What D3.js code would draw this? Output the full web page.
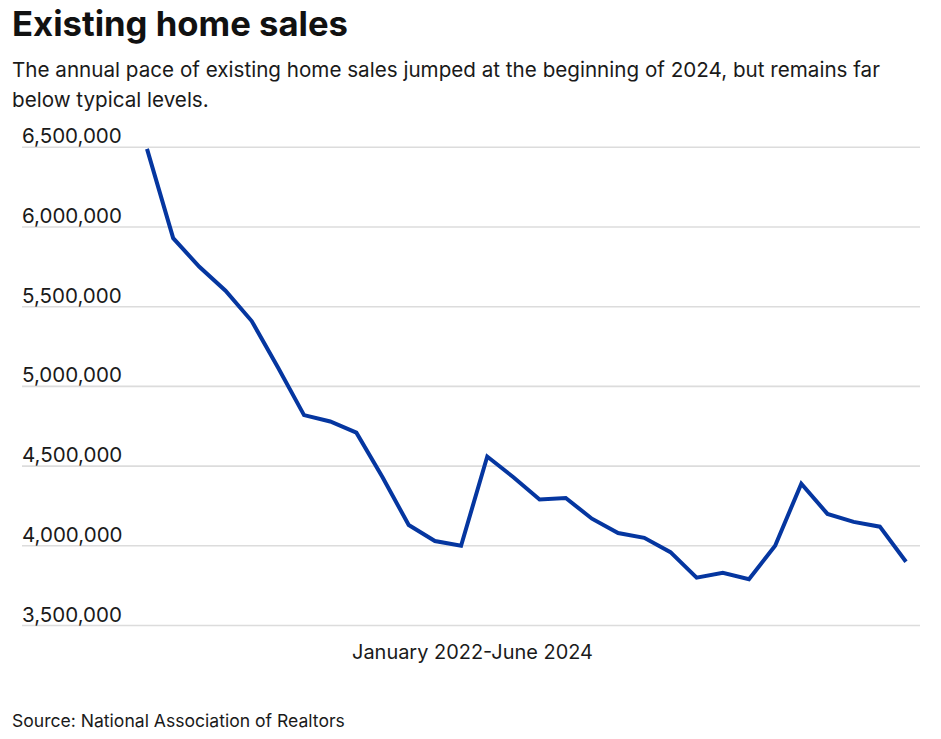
<!DOCTYPE html>
<html>
<head>
<meta charset="utf-8">
<script src="https://cdn.jsdelivr.net/npm/d3@7"></script>
<style>
  html, body { margin: 0; padding: 0; background: #fff; }
  svg { display: block; }
  text { font-family: Inter, "Noto Sans", sans-serif; fill: #1a1a1a; }
</style>
</head>
<body>
<svg id="chart" width="941" height="739"></svg>
<script>
const months = [
  "Jan 2022","Feb 2022","Mar 2022","Apr 2022","May 2022","Jun 2022",
  "Jul 2022","Aug 2022","Sep 2022","Oct 2022","Nov 2022","Dec 2022",
  "Jan 2023","Feb 2023","Mar 2023","Apr 2023","May 2023","Jun 2023",
  "Jul 2023","Aug 2023","Sep 2023","Oct 2023","Nov 2023","Dec 2023",
  "Jan 2024","Feb 2024","Mar 2024","Apr 2024","May 2024","Jun 2024"
];
const sales = [
  6490000, 5930000, 5750000, 5600000, 5410000, 5120000,
  4820000, 4780000, 4710000, 4430000, 4130000, 4030000,
  4000000, 4560000, 4430000, 4290000, 4300000, 4170000,
  4080000, 4050000, 3960000, 3800000, 3830000, 3790000,
  4000000, 4390000, 4200000, 4150000, 4120000, 3900000
];
const yTicks = [3500000, 4000000, 4500000, 5000000, 5500000, 6000000, 6500000];
const titleText = "Existing home sales";
const subtitleLines = [
  "The annual pace of existing home sales jumped at the beginning of 2024, but remains far",
  "below typical levels."
];
const xAxisLabel = "January 2022-June 2024";
const sourceText = "Source: National Association of Realtors";

const svg = d3.select("#chart");

// scale a text's font-size so its width matches a target width
function fitWidth(sel, target) {
  const node = sel.node();
  const fs = parseFloat(sel.style("font-size"));
  const w = node.getComputedTextLength();
  if (w > 0) sel.style("font-size", (fs * target / w).toFixed(2) + "px");
  return fs * target / w;
}

const x = d3.scalePoint().domain(months).range([147, 906]);
const y = d3.scaleLinear().domain([3500000, 6500000]).range([625.5, 147.3]);

// Title & subtitle
const title = svg.append("text").attr("x", 12).attr("y", 36)
  .style("font-size", "32px").style("font-weight", 700).style("fill", "#111")
  .text(titleText);
fitWidth(title, 336);

const subs = svg.selectAll(".sub").data(subtitleLines).enter().append("text")
  .attr("class", "sub")
  .attr("x", 12).attr("y", (d, i) => 77 + i * 29.5)
  .style("font-size", "20px")
  .text(d => d);
const subFs = fitWidth(d3.select(subs.nodes()[0]), 868);
subs.style("font-size", subFs.toFixed(2) + "px");

// Gridlines and y labels
const yAxis = d3.axisLeft(y).tickValues(yTicks).tickFormat(d3.format(",")).tickSize(0);
const gridG = svg.append("g");
yTicks.forEach(t => {
  gridG.append("line")
    .attr("x1", 22).attr("x2", 920)
    .attr("y1", y(t)).attr("y2", y(t))
    .attr("stroke", "#dcdcdc").attr("stroke-width", 1.6);
});
const ax = svg.append("g").attr("transform", "translate(22,0)").call(yAxis);
ax.select(".domain").remove();
const yLabels = ax.selectAll("text")
  .attr("x", 0).attr("dy", null).attr("y", -4.5)
  .attr("text-anchor", "start")
  .style("font-size", "19px")
  .style("font-family", "Inter, sans-serif")
  .attr("fill", "#222");
const yFs = fitWidth(d3.select(yLabels.nodes()[0]), 100);
yLabels.style("font-size", yFs.toFixed(2) + "px");

// Line
const line = d3.line().x((d, i) => x(months[i])).y(d => y(d));
svg.append("path").datum(sales)
  .attr("d", line)
  .attr("fill", "none")
  .attr("stroke", "#0536a0")
  .attr("stroke-width", 4)
  .attr("stroke-linejoin", "miter");

// X label
const xl = svg.append("text").attr("x", 472.5).attr("y", 659)
  .attr("text-anchor", "middle")
  .style("font-size", "19.5px")
  .text(xAxisLabel);
fitWidth(xl, 241);

// Source
const src = svg.append("text").attr("x", 12).attr("y", 727)
  .style("font-size", "17px")
  .text(sourceText);
fitWidth(src, 333);
</script>
</body>
</html>
